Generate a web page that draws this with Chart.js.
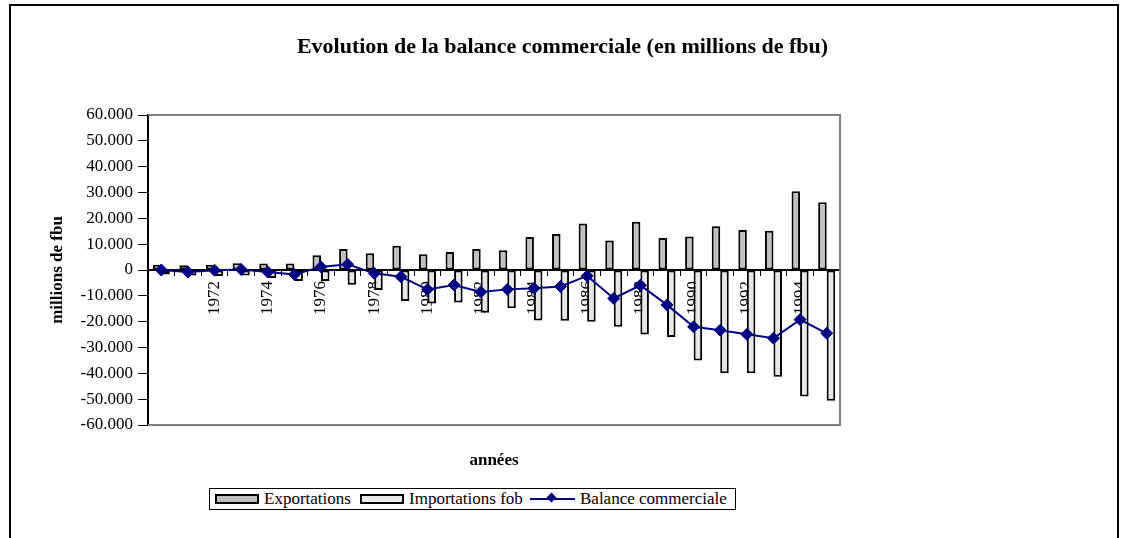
<!DOCTYPE html>
<html>
<head>
<meta charset="utf-8">
<script src="https://cdn.jsdelivr.net/npm/chart.js@4/dist/chart.umd.min.js"></script>
<style>
  html, body { margin: 0; padding: 0; background: #fff; }
  #wrap { position: relative; width: 1125px; height: 538px; }
  #c { position: absolute; left: 0; top: 0; }
  #legend { position: absolute; left: 209px; top: 488px; width: 525px; height: 20px; border: 1px solid #000; background: #fff;
            font-family: "Liberation Serif", "Times New Roman", serif; font-size: 17px; color: #000; }
  #legend .sw { position: absolute; top: 5px; width: 40px; height: 6px; border: 2px solid #000; }
  #legend .tx { position: absolute; top: 0px; line-height: 20px; white-space: nowrap; }
  #legend .ln { position: absolute; top: 9px; width: 45px; height: 2px; background: #000080; }
  #legend .dm { position: absolute; top: 5px; width: 7px; height: 7px; background: #000080; transform: rotate(45deg); }
</style>
</head>
<body>
<div id="wrap">
  <canvas id="c" width="1125" height="538"></canvas>
  <div id="legend">
    <div class="sw" style="left:5px;background:#c0c0c0;"></div>
    <div class="tx" style="left:54px;">Exportations</div>
    <div class="sw" style="left:150px;background:#e6e6e6;"></div>
    <div class="tx" style="left:199px;">Importations fob</div>
    <div class="ln" style="left:320px;"></div>
    <div class="dm" style="left:338px;"></div>
    <div class="tx" style="left:370px;">Balance commerciale</div>
  </div>
</div>
<script>
const years = ['1970','1971','1972','1973','1974','1975','1976','1977','1978','1979','1980','1981','1982',
               '1983','1984','1985','1986','1987','1988','1989','1990','1991','1992','1993','1994','1995'];
const exportations = [2000, 1800, 2000, 2600, 2500, 2500, 5700, 8100, 6500, 9400, 6100, 7000, 8100,
                      7600, 12800, 13900, 18000, 11400, 18700, 12400, 13000, 16900, 15500, 15200, 30500, 26200];
const importations = [-1700, -2100, -2300, -2100, -3100, -4300, -4300, -5700, -7700, -12000, -13000, -12600, -16500,
                      -14800, -19500, -19600, -20000, -22000, -25000, -25900, -35000, -40000, -40000, -41300, -49000, -50600];
const balance = [0, -800, -100, 200, -800, -1700, 1200, 2200, -1300, -2600, -7500, -5800, -8500,
                 -7500, -7100, -6400, -2300, -11000, -5900, -13500, -22000, -23300, -24900, -26400, -19200, -24500];
const seriesNames = ['Exportations', 'Importations fob', 'Balance commerciale'];
const yMin = -60000, yMax = 60000, yStep = 10000;

function fmt(v) {
  if (v === 0) return '0';
  const s = Math.abs(v).toString().replace(/\B(?=(\d{3})+(?!\d))/g, '.');
  return (v < 0 ? '-' : '') + s;
}

const serif = "'Liberation Serif', 'Times New Roman', serif";

const framePlugin = {
  id: 'frame',
  beforeDatasetsDraw(chart) {
    const {ctx, chartArea: a} = chart;
    ctx.save();
    ctx.strokeStyle = '#808080';
    ctx.lineWidth = 2;
    ctx.beginPath();
    ctx.moveTo(a.left, a.top); ctx.lineTo(a.right, a.top); ctx.lineTo(a.right, a.bottom); ctx.lineTo(a.left, a.bottom);
    ctx.stroke();
    ctx.restore();
  },
  afterDraw(chart) {
    const ctx = chart.ctx;
    ctx.save();
    ctx.fillStyle = '#000';
    ctx.fillRect(9, 4, 2, 534);
    ctx.fillRect(9, 4, 1110, 2);
    ctx.fillRect(1117, 4, 2, 534);
    ctx.restore();
  }
};

new Chart(document.getElementById('c'), {
  type: 'bar',
  data: {
    labels: years,
    datasets: [
      {
        type: 'line', label: seriesNames[2], data: balance, order: 0,
        borderColor: '#000080', backgroundColor: '#000080', borderWidth: 2,
        pointStyle: 'rectRot', pointRadius: 6, pointBorderWidth: 1, pointBackgroundColor: '#000080',
        tension: 0, fill: false
      },
      {
        label: seriesNames[0], data: exportations, order: 1,
        backgroundColor: '#c0c0c0', borderColor: '#000', borderWidth: 2, borderSkipped: false,
        categoryPercentage: 0.64, barPercentage: 1
      },
      {
        label: seriesNames[1], data: importations, order: 2,
        backgroundColor: '#e6e6e6', borderColor: '#000', borderWidth: 2, borderSkipped: false,
        categoryPercentage: 0.64, barPercentage: 1
      }
    ]
  },
  options: {
    responsive: false,
    animation: false,
    devicePixelRatio: 1,
    layout: { padding: { left: 0, right: 0, top: 0, bottom: 67.6 } },
    plugins: {
      legend: { display: false },
      tooltip: { enabled: false },
      title: {
        display: true,
        text: 'Evolution de la balance commerciale (en millions de fbu)',
        color: '#000',
        font: { family: serif, size: 22, weight: 'bold' },
        padding: { top: 33.8, bottom: 54.8 }
      }
    },
    scales: {
      x: {
        type: 'category',
        position: { y: 0 },
        offset: true,
        grid: { display: true, drawOnChartArea: false, drawTicks: true, tickLength: 5, color: '#000', lineWidth: 1, offset: true },
        border: { display: true, color: '#000', width: 2 },
        ticks: {
          autoSkip: false, minRotation: 90, maxRotation: 90, padding: 6,
          color: '#000', font: { family: serif, size: 17 },
          callback: function (val, idx) {
            return (idx % 2 === 0 && idx > 0) ? this.getLabelForValue(val) : '';
          }
        }
      },
      x2: {
        type: 'category',
        position: 'bottom',
        labels: years,
        grid: { display: false, drawTicks: false },
        border: { display: false },
        ticks: { display: false },
        title: {
          display: true, text: 'années', color: '#000',
          font: { family: serif, size: 17, weight: 'bold' },
          padding: { top: 25, bottom: 0 }
        }
      },
      y: {
        min: yMin, max: yMax,
        ticks: {
          stepSize: yStep, color: '#000', padding: 5,
          font: { family: serif, size: 17 },
          callback: (v) => fmt(v)
        },
        grid: { display: true, drawOnChartArea: false, drawTicks: true, tickLength: 10, color: '#000', lineWidth: 1 },
        border: { display: true, color: '#000', width: 2 },
        title: {
          display: true, text: 'millions de fbu', color: '#000',
          font: { family: serif, size: 17, weight: 'bold' },
          padding: { top: 47, bottom: 0 }
        },
        afterFit(scale) { scale.width = 148; }
      },
      yRight: {
        type: 'linear',
        position: 'right',
        grid: { display: false, drawTicks: false },
        border: { display: false },
        ticks: { display: false },
        afterFit(scale) { scale.width = 285; }
      }
    }
  },
  plugins: [framePlugin]
});
</script>
</body>
</html>
